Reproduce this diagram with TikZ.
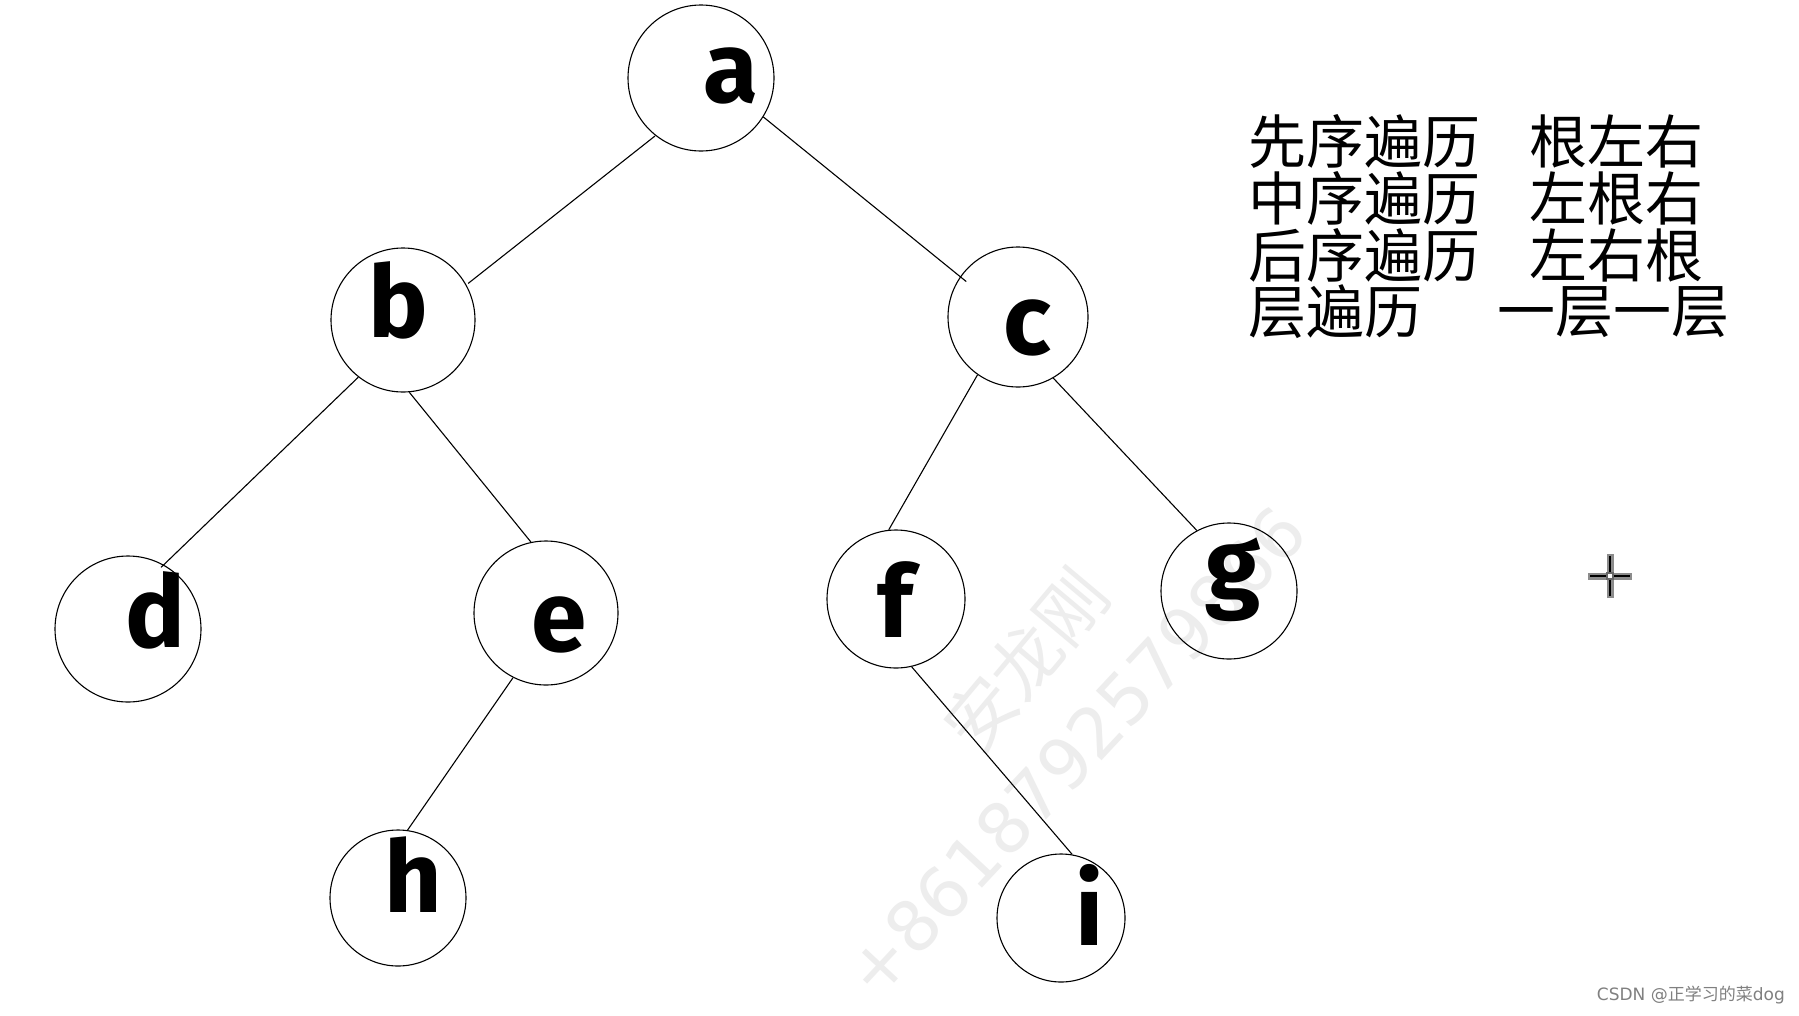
\documentclass[tikz,border=0pt]{standalone}
\usepackage{fontspec}
\setmainfont{DejaVu Sans}
\newfontfamily\cjk{Noto Sans CJK SC}
\newfontfamily\hand{Fira Sans}
\begin{document}
\begin{tikzpicture}[x=1pt,y=-1pt,
  treenode/.style={circle,draw=black,line width=1.1pt,inner sep=0pt},
  letter/.style={font=\hand\bfseries\fontsize{100}{100}\selectfont,inner sep=0pt},
  edge/.style={draw=black,line width=1.1pt},
  cjktext/.style={font=\cjk\fontsize{58}{58}\selectfont,anchor=west,inner sep=0pt},
  wmark/.style={font=\fontsize{70}{70}\selectfont,text=black!7,inner sep=0pt}]
\useasboundingbox (0,0) rectangle (1799,1015);
\fill[white] (0,0) rectangle (1799,1015);
% watermark
\node[wmark,rotate=50] (wm1) at (1025,660) {\cjk 安龙刚};
\node[wmark,rotate=47] (wm2) at (1075,752) {+8618792579866};
% nodes
\node[treenode,minimum size=146pt] (a) at (701,78) {};
\node[treenode,minimum size=144pt] (b) at (403,320) {};
\node[treenode,minimum size=140pt] (c) at (1018,317) {};
\node[treenode,minimum size=146pt] (d) at (128,629) {};
\node[treenode,minimum size=144pt] (e) at (546,613) {};
\node[treenode,minimum size=138pt] (f) at (896,599) {};
\node[treenode,minimum size=136pt] (g) at (1229,591) {};
\node[treenode,minimum size=136pt] (h) at (398,898) {};
\node[treenode,minimum size=128pt] (i) at (1061,918) {};
% letters
\node[letter] (la) at (731,76) {a};
\node[letter] (lb) at (398,300) {b};
\node[letter] (lc) at (1027,328) {c};
\node[letter] (ld) at (155,610) {d};
\node[letter] (le) at (559,625) {e};
\node[letter] (lf) at (895,600) {f};
\node[letter] (lg) at (1233,580) {g};
\node[letter] (lh) at (413,875) {h};
\node[letter] (li) at (1090,905) {i};
% edges
\draw[edge] ([shift={(6pt,-6pt)}]a.-135) -- ([shift={(5pt,-4pt)}]b.34);
\draw[edge] (a.-32) -- ([shift={(6pt,-5pt)}]c.145);
\draw[edge] (b.-128) -- ([shift={(2pt,-5pt)}]d.65);
\draw[edge] (b.-85) -- (e.102);
\draw[edge] (c.-125) -- (f.96);
\draw[edge] (c.-60) -- (g.118);
\draw[edge] (e.-117) -- (h.82);
\draw[edge] (f.-77) -- (i.80);
% text
\node[cjktext] (t1) at (1248,141) {先序遍历};
\node[cjktext] (t2) at (1248,198) {中序遍历};
\node[cjktext] (t3) at (1248,255) {后序遍历};
\node[cjktext] (t4) at (1248,312) {层遍历};
\node[cjktext] (r1) at (1529,141) {根左右};
\node[cjktext] (r2) at (1529,198) {左根右};
\node[cjktext] (r3) at (1529,255) {左右根};
\node[cjktext] (r4) at (1497,312) {一层一层};
% cursor
\coordinate (cur) at (1610,576);
\draw[black!45,line width=7pt] ([xshift=-22pt]cur) -- ([xshift=22pt]cur) ([yshift=-22pt]cur) -- ([yshift=22pt]cur);
\draw[black,line width=2pt] ([xshift=-20pt]cur) -- ([xshift=20pt]cur) ([yshift=-20pt]cur) -- ([yshift=20pt]cur);
\fill[black!60] ([shift={(-4pt,-4pt)}]cur) rectangle ([shift={(4pt,4pt)}]cur);
\fill[white] ([shift={(-2pt,-2pt)}]cur) rectangle ([shift={(2pt,2pt)}]cur);
% credit
\node[font=\fontsize{17}{17}\selectfont,text=black!50,anchor=east,inner sep=0pt] (csdn) at (1785,995) {CSDN @{\cjk 正学习的菜}dog};
\end{tikzpicture}
\end{document}
